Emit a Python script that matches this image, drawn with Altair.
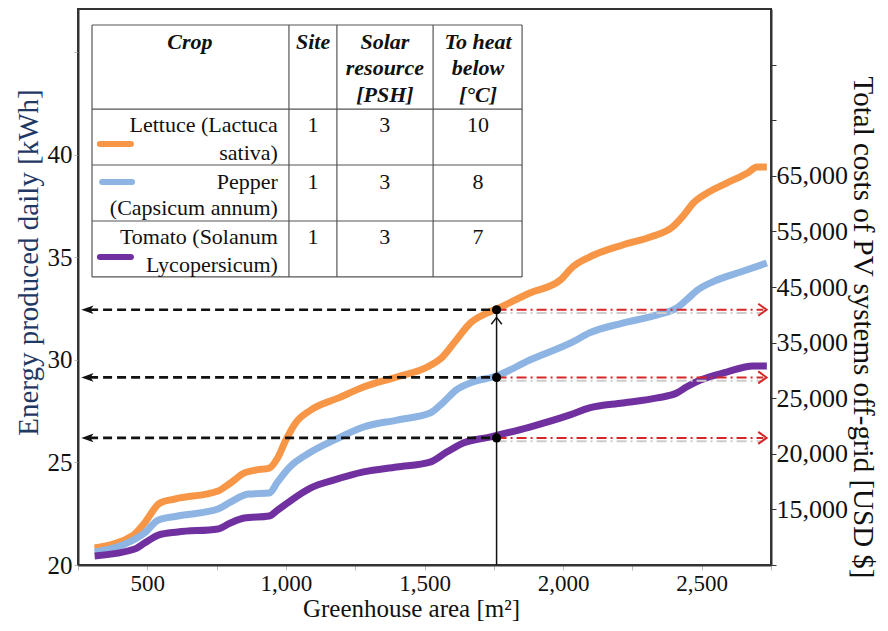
import altair as alt
import pandas as pd

FONT = "Liberation Serif"

# ---------------- data ----------------
crops = ["Lettuce", "Pepper", "Tomato"]
crop_colors = ["#F79646", "#8DB4E2", "#7030A0"]

lettuce_x = [310, 450, 490, 545, 600, 755, 800, 850, 890, 940, 970, 1000, 1035, 1090, 1190, 1280, 1400,
             1510, 1565, 1615, 1665, 1725, 1760, 1880, 1990, 2035, 2095, 2215, 2315, 2395, 2430, 2470,
             2520, 2590, 2665, 2700, 2735]
lettuce_y = [20.83, 21.46, 22.05, 23.02, 23.22, 23.61, 24.00, 24.49, 24.63, 24.73, 25.22, 26.10, 26.93,
             27.56, 28.15, 28.68, 29.17, 29.66, 30.15, 30.98, 31.80, 32.29, 32.49, 33.27, 33.90, 34.54,
             35.02, 35.61, 36.00, 36.49, 36.98, 37.66, 38.15, 38.63, 39.12, 39.41, 39.41]

pepper_x = [310, 450, 490, 540, 610, 755, 800, 865, 940, 970, 1010, 1090, 1175, 1280, 1400, 1520, 1565,
            1615, 1675, 1760, 1880, 2035, 2095, 2215, 2340, 2410, 2445, 2485, 2555, 2640, 2735]
pepper_y = [20.63, 21.22, 21.56, 22.20, 22.39, 22.73, 23.07, 23.46, 23.51, 24.05, 24.73, 25.51, 26.10,
            26.73, 27.07, 27.41, 27.90, 28.54, 28.93, 29.22, 30.00, 30.88, 31.32, 31.80, 32.20, 32.54,
            32.93, 33.41, 33.90, 34.29, 34.73]

tomato_x = [310, 455, 490, 540, 610, 755, 800, 850, 940, 970, 1010, 1090, 1175, 1280, 1400, 1520, 1580,
            1640, 1735, 1880, 2025, 2095, 2215, 2340, 2410, 2445, 2495, 2590, 2685, 2735]
tomato_y = [20.44, 20.78, 21.07, 21.46, 21.61, 21.76, 22.05, 22.29, 22.39, 22.68, 23.07, 23.76, 24.15,
            24.54, 24.78, 25.02, 25.51, 25.95, 26.24, 26.73, 27.32, 27.66, 27.90, 28.15, 28.39, 28.68,
            29.02, 29.41, 29.71, 29.71]

# reading example: greenhouse area and the energy levels it gives
read_area = 1760
read_energy = [32.45, 29.15, 26.20]

# axes
x_ticks = list(range(250, 2751, 250))
left_ticks = [20, 25, 30, 35, 40, 45]
right_tick_index = list(range(10))
right_tick_labels = ["", "15,000", "20,000", "25,000", "35,000", "45,000", "55,000", "65,000", "", ""]

# table contents
table_header = [["Crop"], ["Site"], ["Solar", "resource", "[PSH]"], ["To heat", "below", "[°C]"]]
table_crop_lines = [["Lettuce (Lactuca", "sativa)"], ["Pepper\u00a0", "(Capsicum annum)"],
                    ["Tomato (Solanum", "Lycopersicum)"]]
table_site = ["1", "1", "1"]
table_psh = ["3", "3", "3"]
table_heat = ["10", "8", "7"]

# ---------------- layout (data units of the chart's own axes) ----------------
X_DOMAIN = [250, 2750]
Y_DOMAIN = [20, 47.12]
tab_cols = [300.5, 1011, 1184, 1531, 1852]          # column borders
tab_rows = [46.34, 42.24, 39.51, 36.78, 34.05]      # row borders
tab_col_centers = [654, 1098, 1357, 1693]
tab_header_lines = [45.51, 44.24, 42.93]
tab_row_lines = [[41.46, 40.10], [38.68, 37.41], [36.00, 34.63]]
tab_text_right = 971
tab_swatch = [[329, 441, 40.54], [337, 445, 38.68], [329, 441, 35.02]]
left_arrow_end = 290
left_arrow_head = 284
right_arrow_end = 2722
right_arrow_head = 2719
up_arrow_head = 31.95

xs = alt.Scale(domain=X_DOMAIN, nice=False, zero=False)
ys = alt.Scale(domain=Y_DOMAIN, nice=False, zero=False)
color_scale = alt.Scale(domain=crops, range=crop_colors)

# ---------------- tables ----------------
curves = pd.concat([
    pd.DataFrame({"x": lettuce_x, "y": lettuce_y, "crop": "Lettuce"}),
    pd.DataFrame({"x": pepper_x, "y": pepper_y, "crop": "Pepper"}),
    pd.DataFrame({"x": tomato_x, "y": tomato_y, "crop": "Tomato"}),
], ignore_index=True)

reads = pd.DataFrame({"x": [read_area] * 3, "y": read_energy, "crop": crops,
                      "xl": [left_arrow_end] * 3, "xlh": [left_arrow_head] * 3,
                      "xr": [right_arrow_end] * 3, "xrh": [right_arrow_head] * 3,
                      "ys": [v - 0.16 for v in read_energy]})
vline = pd.DataFrame({"x": [read_area], "y": [Y_DOMAIN[0]], "y2": [read_energy[0]], "yh": [up_arrow_head]})

x_axis = alt.Axis(values=x_ticks, labelExpr="datum.value % 500 == 0 ? format(datum.value, ',') : ''",
                  title="Greenhouse area [m²]", titleX=333, titleY=43, titleBaseline="middle",
                  titleAlign="center", grid=False, tickColor="#bbbbbb", tickSize=5,
                  domainColor="#333333", domainWidth=2,
                  labelFont=FONT, labelFontSize=23, labelColor="#111111", labelPadding=2,
                  titleFont=FONT, titleFontSize=25, titleFontWeight="normal", titleColor="#111111")
y_axis = alt.Axis(values=left_ticks, labelExpr="datum.value == 45 ? '' : datum.label",
                  title="Energy produced daily [kWh]", titleX=-50, titleY=253, titleBaseline="middle",
                  titleAlign="center", grid=False, tickColor="#bbbbbb", tickSize=4,
                  domainColor="#333333", domainWidth=2, labelFont=FONT, labelFontSize=25,
                  labelColor="#111111", labelPadding=2, titleFont=FONT, titleFontSize=29,
                  titleFontWeight="normal", titleColor="#1f3864")

right_expr = "[" + ",".join("'%s'" % s for s in right_tick_labels) + "][datum.value]"
r_axis = alt.Axis(orient="right", values=right_tick_index, labelExpr=right_expr,
                  title="Total costs of PV systems off-grid [USD $]", titleX=91, titleY=318,
                  titleBaseline="middle", titleAlign="center", titleAngle=90, grid=False,
                  tickColor="#333333", tickSize=5, domainColor="#333333", domainWidth=2,
                  labelFont=FONT, labelFontSize=26, labelColor="#111111", labelPadding=0,
                  titleFont=FONT, titleFontSize=29, titleFontWeight="normal", titleColor="#111111")


def X(f="x"):
    return alt.X(f + ":Q", scale=xs, axis=x_axis)


def Y(f="y"):
    return alt.Y(f + ":Q", scale=ys, axis=y_axis)


lines = alt.Chart(curves).mark_line(strokeWidth=7, interpolate="monotone", strokeCap="butt").encode(
    x=X(), y=Y(),
    color=alt.Color("crop:N", scale=color_scale, legend=None),
    order="x:Q",
)

# black dashed arrows to the left axis
dash_left = alt.Chart(reads).mark_rule(color="#111111", strokeWidth=2.6, strokeDash=[9, 5]).encode(
    x=X("xl"), x2="x:Q", y=Y())
head_left = alt.Chart(reads).mark_point(shape="M -1 0 L 1 -0.7 L 0.5 0 L 1 0.7 Z", filled=True,
                                        color="#111111", opacity=1, size=150).encode(x=X("xlh"), y=Y())
# red dash-dot arrows to the right axis (with their grey shadow)
shadow_right = alt.Chart(reads).mark_rule(color="#cccccc", strokeWidth=2, strokeDash=[10, 4, 2, 4]).encode(
    x=X(), x2="xr:Q", y=Y("ys"))
dash_right = alt.Chart(reads).mark_rule(color="#d62728", strokeWidth=2, strokeDash=[10, 4, 2, 4]).encode(
    x=X(), x2="xr:Q", y=Y())
head_right = alt.Chart(reads).mark_point(shape="M -0.7 -1 L 0.7 0 L -0.7 1", filled=False,
                                         color="#d62728", strokeWidth=2, opacity=1, size=144).encode(
    x=X("xrh"), y=Y())
# vertical reading line
vrule = alt.Chart(vline).mark_rule(color="#111111", strokeWidth=1.5).encode(x=X(), y=Y(), y2="y2:Q")
vhead = alt.Chart(vline).mark_point(shape="M -1 0.8 L 0 -0.5 L 1 0.8", filled=False, color="#111111",
                                    strokeWidth=1.5, opacity=1, size=110).encode(x=X(), y=Y("yh"))
dots = alt.Chart(reads).mark_circle(color="#000000", size=85, opacity=1).encode(x=X(), y=Y())

# ---------------- table ----------------
tab_bg = alt.Chart(pd.DataFrame({"x": [tab_cols[0]], "x2": [tab_cols[-1]], "y": [tab_rows[-1]],
                                 "y2": [tab_rows[0]]})).mark_rect(fill="white").encode(
    x=X(), x2="x2:Q", y=Y(), y2="y2:Q")
hl = pd.DataFrame({"x": tab_cols[0], "x2": tab_cols[-1], "y": tab_rows})
vl = pd.DataFrame({"x": tab_cols, "y": tab_rows[-1], "y2": tab_rows[0]})
tab_h = alt.Chart(hl).mark_rule(color="#555555", strokeWidth=1.2).encode(x=X(), x2="x2:Q", y=Y())
tab_v = alt.Chart(vl).mark_rule(color="#555555", strokeWidth=1.2).encode(x=X(), y=Y(), y2="y2:Q")

head_rows = []
for ci, lines_ in enumerate(table_header):
    for li, t in enumerate(lines_):
        head_rows.append({"x": tab_col_centers[ci], "y": tab_header_lines[li], "t": t})
tab_head = alt.Chart(pd.DataFrame(head_rows)).mark_text(
    font=FONT, fontSize=22, fontWeight="bold", fontStyle="italic", color="#111111",
    align="center", baseline="middle").encode(x=X(), y=Y(), text="t:N")

name_rows = []
num_rows = []
for ri, lines_ in enumerate(table_crop_lines):
    for li, t in enumerate(lines_):
        name_rows.append({"x": tab_text_right, "y": tab_row_lines[ri][li], "t": t})
    for ci, vals in zip([1, 2, 3], [table_site, table_psh, table_heat]):
        num_rows.append({"x": tab_col_centers[ci], "y": tab_row_lines[ri][0], "t": vals[ri]})
tab_names = alt.Chart(pd.DataFrame(name_rows)).mark_text(
    font=FONT, fontSize=22, color="#111111", align="right", baseline="middle").encode(
    x=X(), y=Y(), text="t:N")
tab_nums = alt.Chart(pd.DataFrame(num_rows)).mark_text(
    font=FONT, fontSize=22, color="#111111", align="center", baseline="middle").encode(
    x=X(), y=Y(), text="t:N")
sw = pd.DataFrame({"x": [s[0] for s in tab_swatch], "x2": [s[1] for s in tab_swatch],
                   "y": [s[2] for s in tab_swatch], "crop": crops})
tab_sw = alt.Chart(sw).mark_rule(strokeWidth=6, strokeCap="round").encode(
    x=X(), x2="x2:Q", y=Y(), color=alt.Color("crop:N", scale=color_scale, legend=None))

left = alt.layer(lines, dash_left, head_left, shadow_right, dash_right, head_right, vrule, vhead, dots,
                 tab_bg, tab_h, tab_v, tab_head, tab_names, tab_nums, tab_sw)

right = alt.Chart(pd.DataFrame({"idx": right_tick_index})).mark_point(opacity=0).encode(
    y=alt.Y("idx:Q", scale=alt.Scale(domain=[0, 10], nice=False, zero=False), axis=r_axis))

chart = alt.layer(left, right).resolve_scale(y="independent").properties(
    width=693, height=556,
    autosize=alt.AutoSizeParams(type="none"),
    padding={"left": 70, "top": 1, "right": 109, "bottom": 58},
).configure_view(stroke="#333333", strokeWidth=2)

chart.save("out.html", embed_options={"renderer": "svg", "actions": False})
